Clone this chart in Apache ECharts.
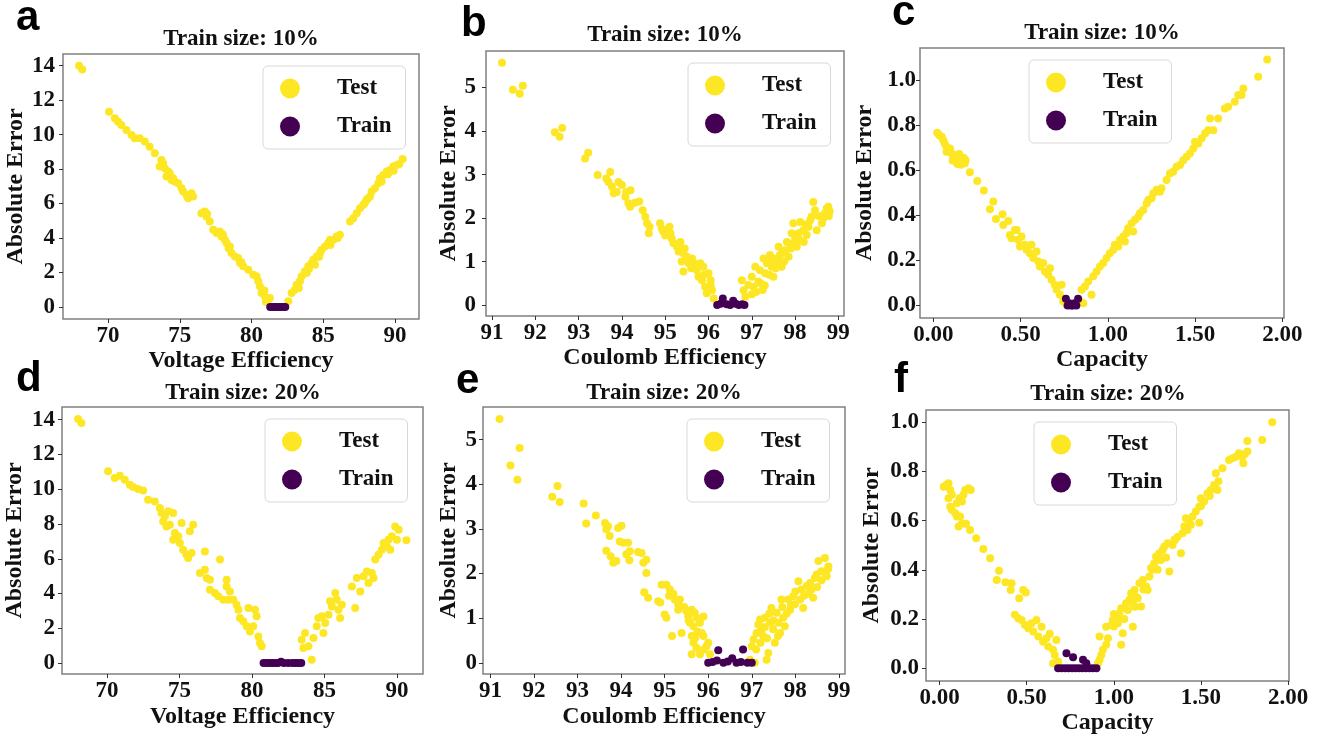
<!DOCTYPE html>
<html lang="en">
<head>
<meta charset="UTF-8">
<title>Absolute Error</title>
<style>
    * { margin: 0; padding: 0; }
    html, body { width: 100%; height: 100%; background: #fff; }
    #main { width: 1327px; height: 738px; }
</style>
<script src="https://cdn.jsdelivr.net/npm/echarts@6/dist/echarts.min.js"></script>
</head>
<body>
<div id="main"></div>
<script>
// tick values
var veTicks = [70, 75, 80, 85, 90];
var ceTicks = [91, 92, 93, 94, 95, 96, 97, 98, 99];
var capTicks = [0, 0.5, 1, 1.5, 2];
var veErrTicks = [0, 2, 4, 6, 8, 10, 12, 14];
var ceErrTicks = [0, 1, 2, 3, 4, 5];
var capErrTicks = [0, 0.2, 0.4, 0.6, 0.8, 1.0];

// a: voltage efficiency, train size 10%
var aTest = [[67.98,14.0],[68.2,13.78],[70.07,11.33],[70.47,10.95],[70.7,10.75],[70.93,10.56],[71.28,10.27],[71.63,9.98],[71.86,9.79],[72.2,9.79],[72.56,9.6],[72.9,9.3],[73.26,8.92],[73.72,8.53],[73.6,8.15],[73.95,8.05],[73.84,8.34],[74.19,7.86],[74.3,7.76],[74.07,7.57],[74.53,7.47],[74.65,7.28],[74.42,7.37],[74.88,7.18],[75.12,6.89],[75.23,6.7],[75.47,6.5],[75.7,6.41],[75.58,6.31],[75.93,6.41],[75.81,6.6],[76.51,5.44],[76.74,5.54],[76.86,5.25],[76.9,5.4],[77.09,4.96],[77.33,4.48],[77.56,4.29],[77.79,4.38],[77.9,4.09],[78.0,4.2],[78.14,3.9],[78.26,3.71],[78.4,3.4],[78.49,3.51],[78.6,3.13],[78.84,2.93],[79.07,2.84],[79.19,2.55],[79.3,2.6],[79.42,2.36],[79.77,2.16],[80.12,1.87],[80.35,1.78],[80.47,1.49],[80.58,1.2],[80.7,0.81],[80.9,0.95],[80.93,0.62],[81.0,0.3],[81.16,0.42],[81.28,0.52],
    [82.56,0.33],[82.79,0.81],[83.02,1.0],[83.14,1.29],[83.3,1.1],[83.37,1.49],[83.49,1.78],[83.72,2.07],[83.84,1.97],[83.95,2.36],[84.0,2.2],[84.19,2.55],[84.3,2.74],[84.42,2.45],[84.53,2.93],[84.7,2.9],[84.77,3.13],[84.88,3.32],[85.12,3.51],[85.35,3.71],[85.47,3.9],[85.5,3.6],[85.7,3.9],[85.93,4.09],[86.0,4.0],[86.16,4.19],[86.86,4.96],[87.09,5.15],[87.33,5.44],[87.56,5.73],[87.79,5.93],[87.9,6.03],[88.02,6.22],[88.1,6.3],[88.26,6.41],[88.37,6.7],[88.6,6.89],[88.84,7.18],[88.95,7.47],[89.07,7.28],[89.19,7.66],[89.42,7.86],[89.5,7.7],[89.65,7.95],[89.88,8.15],[89.9,7.9],[90.12,8.24],[90.3,8.3],[90.53,8.59]];
var aTrain = [[81.3,0],[81.45,0],[81.6,0],[81.75,0],[81.9,0],[82.05,0],[82.2,0],[82.35,0]];

// b: coulomb efficiency, train size 10%
var bTest = [[91.23,5.57],[91.48,4.95],[91.64,4.86],[91.71,5.04],[92.45,3.97],[92.56,3.87],[92.62,4.07],[93.15,3.37],[93.22,3.5],[93.44,2.99],[93.64,2.91],[93.73,3.06],[93.69,2.83],[93.77,2.72],[93.81,2.57],[93.92,2.83],[94.0,2.76],[93.88,2.6],[94.08,2.49],[94.1,2.6],[94.15,2.34],[94.19,2.26],[94.2,2.64],[94.3,2.35],[94.4,2.38],[94.48,2.18],[94.54,2.03],[94.58,1.88],[94.64,1.8],[94.62,1.65],[94.88,1.88],[94.92,1.76],[94.95,1.7],[95.0,1.6],[95.04,1.72],[95.1,1.8],[95.12,1.65],[95.15,1.53],[95.19,1.42],[95.27,1.34],[95.3,1.4],[95.31,1.23],[95.35,1.45],[95.42,1.19],[95.45,1.3],[95.5,1.11],[95.38,1.0],[95.42,0.77],[95.54,0.96],[95.6,0.85],[95.62,1.07],[95.65,0.88],[95.7,0.95],[95.73,0.8],[95.77,0.65],[95.81,0.96],[95.88,0.88],[95.85,0.57],[95.9,0.7],[95.92,0.42],[96.0,0.73],[96.05,0.57],[96.05,0.45],[96.08,0.34],[95.96,0.27],[96.12,0.15],
    [96.77,0.57],[96.81,0.34],[96.85,0.19],[96.92,0.46],[97.0,0.65],[97.0,0.25],[97.04,0.42],[97.08,0.88],[97.1,0.3],[97.15,0.54],[97.19,0.8],[97.2,0.5],[97.25,0.35],[97.27,1.07],[97.3,0.45],[97.31,0.73],[97.35,0.96],[97.4,0.7],[97.42,1.15],[97.45,1.05],[97.46,0.88],[97.5,0.65],[97.54,1.07],[97.55,0.85],[97.6,1.0],[97.62,1.34],[97.65,1.15],[97.69,0.88],[97.7,1.2],[97.75,1.0],[97.77,1.26],[97.81,1.45],[97.85,1.11],[97.9,1.3],[97.92,1.65],[97.96,1.42],[97.96,1.88],[98.0,1.55],[98.04,1.34],[98.08,1.65],[98.1,1.5],[98.12,1.91],[98.19,1.72],[98.2,1.45],[98.25,1.85],[98.27,1.61],[98.31,1.8],[98.35,1.95],[98.38,2.03],[98.42,2.37],[98.46,2.18],[98.5,1.72],[98.55,2.05],[98.62,1.88],[98.65,1.99],[98.69,2.11],[98.73,2.22],[98.77,2.26],[98.78,2.05],[98.8,2.15]];
var bTrain = [[96.2,0],[96.28,0.03],[96.33,0.15],[96.42,0.02],[96.5,0],[96.57,0.1],[96.63,0.03],[96.7,0],[96.78,0.02],[96.83,0]];

// c: capacity, train size 10%
var cTest = [[0.023,0.767],[0.034,0.756],[0.048,0.749],[0.057,0.734],[0.065,0.719],[0.076,0.705],[0.086,0.69],[0.096,0.697],[0.105,0.675],[0.115,0.66],[0.12,0.65],[0.124,0.668],[0.13,0.64],[0.134,0.653],[0.14,0.66],[0.143,0.645],[0.145,0.635],[0.153,0.66],[0.155,0.645],[0.16,0.625],[0.162,0.638],[0.165,0.655],[0.17,0.64],[0.172,0.648],[0.175,0.655],[0.181,0.631],[0.185,0.645],[0.138,0.628],[0.076,0.682],[0.111,0.643],[0.149,0.672],[0.21,0.591],[0.252,0.552],[0.29,0.51],[0.344,0.461],[0.325,0.427],[0.359,0.384],[0.397,0.405],[0.401,0.357],[0.43,0.375],[0.439,0.313],[0.468,0.335],[0.449,0.298],[0.478,0.335],[0.487,0.291],[0.506,0.306],[0.497,0.261],[0.525,0.269],[0.535,0.247],[0.563,0.269],[0.554,0.232],[0.573,0.21],[0.592,0.239],[0.602,0.195],[0.611,0.173],[0.63,0.188],[0.64,0.151],[0.659,0.136],[0.669,0.165],[0.678,0.114],[0.697,0.092],[0.707,0.069],[0.736,0.092],[0.726,0.047],[0.745,0.018],[0.764,0.003],
    [0.84,0.018],[0.86,0.01],[0.85,0.069],[0.869,0.084],[0.888,0.106],[0.907,0.047],[0.917,0.129],[0.936,0.151],[0.955,0.173],[0.974,0.188],[0.993,0.21],[1.012,0.232],[1.032,0.247],[1.041,0.269],[1.06,0.261],[1.07,0.291],[1.089,0.306],[1.098,0.284],[1.108,0.321],[1.117,0.343],[1.137,0.365],[1.146,0.328],[1.156,0.38],[1.175,0.394],[1.184,0.409],[1.203,0.424],[1.223,0.453],[1.232,0.468],[1.251,0.476],[1.261,0.498],[1.28,0.513],[1.299,0.505],[1.308,0.52],[1.337,0.557],[1.356,0.586],[1.375,0.594],[1.394,0.616],[1.414,0.623],[1.433,0.645],[1.452,0.66],[1.471,0.675],[1.49,0.697],[1.5,0.727],[1.519,0.719],[1.538,0.742],[1.558,0.764],[1.576,0.778],[1.586,0.83],[1.605,0.778],[1.633,0.83],[1.671,0.874],[1.69,0.882],[1.728,0.904],[1.748,0.934],[1.767,0.934],[1.777,0.963],[1.862,1.015],[1.914,1.092]];
var cTrain = [[0.76,0.03],[0.77,0],[0.78,0.01],[0.79,0],[0.8,0],[0.81,0.01],[0.82,0],[0.83,0.03]];

// d: voltage efficiency, train size 20%
var dTest = [[68.0,14.04],[68.23,13.81],[70.07,11.03],[70.53,10.64],[70.88,10.78],[71.22,10.55],[71.57,10.26],[71.8,10.13],[72.14,10.01],[72.49,9.93],[72.83,9.4],[73.29,9.3],[73.64,8.92],[73.76,8.63],[73.99,8.44],[73.87,8.15],[74.22,8.73],[74.33,7.96],[74.56,8.63],[74.1,7.86],[74.68,7.48],[74.91,7.29],[74.56,7.1],[75.14,8.06],[75.02,6.9],[75.25,6.52],[75.48,6.23],[75.6,6.04],[75.83,6.33],[75.71,7.58],[75.94,7.96],[76.75,6.42],[76.41,5.18],[76.75,5.37],[76.87,4.89],[77.1,4.79],[77.1,4.22],[77.44,4.03],[77.67,3.84],[77.79,5.95],[78.02,3.64],[78.25,4.79],[78.25,4.41],[78.48,4.12],[78.36,3.64],[78.71,3.64],[78.94,3.36],[79.06,3.07],[79.17,2.59],[79.4,2.4],[79.63,2.11],[79.75,3.16],[79.86,1.82],[80.09,2.11],[80.21,3.07],[80.32,2.69],[80.44,1.53],[80.55,1.15],[80.67,0.96],
    [83.55,0.86],[83.43,1.34],[83.66,1.73],[83.89,0.96],[84.12,0.19],[84.24,1.44],[84.47,2.11],[84.58,2.59],[84.82,2.69],[84.93,1.73],[85.05,2.3],[85.28,2.78],[85.39,3.55],[85.51,3.26],[85.74,4.03],[85.85,3.64],[85.97,3.07],[86.08,2.59],[86.2,3.36],[86.89,4.41],[87.12,3.16],[87.23,4.89],[87.47,4.12],[87.7,4.99],[87.93,5.27],[88.04,4.6],[88.27,5.18],[88.39,4.89],[88.5,5.95],[88.73,6.23],[88.96,6.52],[89.08,6.9],[89.31,6.71],[89.42,7.1],[89.54,6.52],[89.65,7.29],[89.88,7.86],[90.12,7.67],[90.0,7.1],[90.65,7.06]];
var dTrain = [[80.8,0],[81.0,0],[81.2,0],[81.4,0],[81.6,0],[81.8,0],[82.0,0.08],[82.2,0],[82.5,0],[82.8,0],[83.0,0],[83.2,0],[83.4,0]];

// e: coulomb efficiency, train size 20%
var eTest = [[91.21,5.46],[91.46,4.42],[91.62,4.1],[91.67,4.81],[92.42,3.72],[92.54,3.96],[92.59,3.6],[93.14,3.57],[93.2,3.12],[93.42,3.3],[93.63,3.13],[93.66,2.99],[93.7,3.06],[93.74,2.84],[93.66,2.51],[93.76,2.39],[93.82,2.24],[93.89,2.28],[93.93,3.02],[94.01,3.07],[93.97,2.72],[94.05,2.69],[94.16,2.69],[94.2,2.5],[94.12,2.43],[94.19,2.3],[94.39,2.48],[94.47,2.46],[94.51,2.24],[94.58,2.01],[94.58,2.31],[94.53,1.58],[94.62,1.46],[94.85,1.38],[94.9,1.35],[94.93,1.75],[95.04,1.75],[95.1,1.5],[95.12,1.64],[95.16,1.53],[95.2,1.55],[95.0,1.08],[95.04,1.01],[95.23,1.42],[95.31,1.31],[95.35,1.42],[95.45,1.25],[95.17,0.6],[95.39,0.67],[95.31,1.19],[95.5,1.16],[95.54,1.04],[95.55,0.95],[95.62,1.19],[95.69,1.12],[95.58,0.9],[95.66,0.82],[95.73,1.01],[95.75,0.7],[95.7,0.55],[95.81,0.9],[95.85,0.67],[95.89,1.04],[95.62,0.6],[95.66,0.45],[95.73,0.34],[95.62,0.19],[95.89,0.6],[95.9,0.3],[95.81,0.19],[95.96,0.37],[96.0,0.45],[96.04,0.19],
    [96.96,0.07],[97.07,0.0],[97.0,0.37],[97.04,0.52],[97.1,0.3],[97.11,0.67],[97.15,0.86],[97.19,0.97],[97.2,0.45],[97.23,0.75],[97.26,0.6],[97.3,1.01],[97.3,0.8],[97.34,0.07],[97.35,0.55],[97.38,0.22],[97.4,1.1],[97.42,0.9],[97.45,1.23],[97.49,0.75],[97.5,0.95],[97.53,0.45],[97.57,1.12],[97.6,0.6],[97.61,0.9],[97.65,0.67],[97.68,1.42],[97.7,1.25],[97.72,1.01],[97.76,0.82],[97.8,1.1],[97.84,1.42],[97.88,1.19],[97.9,1.3],[97.95,1.49],[97.99,1.31],[98.0,1.6],[98.07,1.83],[98.11,1.42],[98.14,1.64],[98.18,1.23],[98.2,1.5],[98.26,1.72],[98.3,1.55],[98.34,1.79],[98.37,1.64],[98.41,1.46],[98.45,1.9],[98.49,1.98],[98.5,1.7],[98.53,2.28],[98.6,2.05],[98.6,1.85],[98.68,2.35],[98.7,2.0],[98.72,1.94],[98.75,2.1],[98.76,2.16]];
var eTrain = [[96.0,0],[96.1,0.02],[96.2,0.05],[96.23,0.28],[96.35,0],[96.45,0.03],[96.55,0.1],[96.65,0],[96.75,0.02],[96.8,0.3],[96.9,0],[97.0,0]];

// f: capacity, train size 20%
var fTest = [[0.023,0.738],[0.038,0.745],[0.051,0.752],[0.061,0.725],[0.07,0.705],[0.051,0.691],[0.061,0.657],[0.07,0.644],[0.09,0.63],[0.099,0.671],[0.114,0.691],[0.128,0.678],[0.137,0.705],[0.147,0.725],[0.166,0.732],[0.179,0.725],[0.099,0.617],[0.118,0.617],[0.109,0.576],[0.128,0.587],[0.152,0.587],[0.175,0.562],[0.21,0.528],[0.251,0.485],[0.29,0.447],[0.328,0.359],[0.341,0.396],[0.378,0.35],[0.408,0.318],[0.413,0.346],[0.457,0.285],[0.48,0.318],[0.495,0.308],[0.432,0.217],[0.451,0.203],[0.47,0.196],[0.49,0.176],[0.509,0.163],[0.528,0.183],[0.537,0.149],[0.556,0.196],[0.566,0.129],[0.585,0.169],[0.594,0.108],[0.613,0.122],[0.623,0.088],[0.632,0.14],[0.651,0.075],[0.67,0.115],[0.661,0.054],[0.651,0.02],[0.68,0.027],
    [0.909,0.02],[0.918,0.034],[0.928,0.054],[0.937,0.075],[0.956,0.095],[0.918,0.129],[0.966,0.122],[0.956,0.169],[0.985,0.176],[0.994,0.196],[1.0,0.17],[1.0,0.22],[1.013,0.21],[1.023,0.183],[1.03,0.2],[1.032,0.224],[1.042,0.244],[1.042,0.095],[1.051,0.142],[1.06,0.2],[1.07,0.264],[1.08,0.237],[1.09,0.278],[1.099,0.305],[1.109,0.264],[1.109,0.169],[1.118,0.318],[1.12,0.25],[1.128,0.291],[1.137,0.285],[1.147,0.346],[1.156,0.251],[1.166,0.359],[1.17,0.32],[1.185,0.332],[1.194,0.318],[1.204,0.373],[1.213,0.407],[1.22,0.4],[1.232,0.427],[1.242,0.454],[1.251,0.4],[1.261,0.467],[1.27,0.44],[1.28,0.481],[1.29,0.495],[1.3,0.45],[1.309,0.508],[1.318,0.393],[1.337,0.501],[1.347,0.522],[1.35,0.52],[1.366,0.535],[1.385,0.467],[1.394,0.549],[1.404,0.576],[1.413,0.61],[1.423,0.562],[1.43,0.6],[1.442,0.583],[1.451,0.617],[1.47,0.637],[1.49,0.657],[1.49,0.592],[1.499,0.691],[1.5,0.66],[1.518,0.678],[1.537,0.711],[1.55,0.7],[1.556,0.725],[1.575,0.745],[1.585,0.732],[1.594,0.725],[1.6,0.76],[1.585,0.793],[1.623,0.813],[1.661,0.847],[1.68,0.854],[1.7,0.86],[1.718,0.874],[1.737,0.86],[1.743,0.833],[1.75,0.87],[1.766,0.881],[1.766,0.924],[1.851,0.928],[1.909,1.0]];
var fTrain = [[0.68,0],[0.7,0],[0.72,0],[0.728,0.061],[0.74,0],[0.76,0],[0.766,0.045],[0.78,0],[0.8,0],[0.82,0],[0.823,0.034],[0.84,0],[0.842,0.02],[0.86,0],[0.88,0],[0.9,0]];

var YELLOW = '#FDE725', PURPLE = '#440154';
var SERIF = 'Liberation Serif';

var panels = [
    {letter: 'a', title: 'Train size: 10%', test: aTest, train: aTrain, xName: 'Voltage Efficiency',
        grid: {left: 63, top: 54, width: 356, height: 265}, xr: [66.86, 91.67], yr: [-0.70, 14.68],
        xt: veTicks, yt: veErrTicks, xd: 0, yd: 0, letterPos: [16, -3], titlePos: [241, 28],
        legendPos: [263, 66], yGap: 34, xGap: 29, yMargin: 8},
    {letter: 'b', title: 'Train size: 10%', test: bTest, train: bTrain, xName: 'Coulomb Efficiency',
        grid: {left: 486, top: 51, width: 358, height: 265}, xr: [90.86, 99.13], yr: [-0.25, 5.84],
        xt: ceTicks, yt: ceErrTicks, xd: 0, yd: 0, letterPos: [461, 3], titlePos: [665, 24],
        legendPos: [688, 63], yGap: 24, xGap: 28, yMargin: 10},
    {letter: 'c', title: 'Train size: 10%', test: cTest, train: cTrain, xName: 'Capacity',
        grid: {left: 920, top: 48, width: 364, height: 270}, xr: [-0.076, 2.01], yr: [-0.056, 1.143],
        xt: capTicks, yt: capErrTicks, xd: 2, yd: 1, letterPos: [892, -8], titlePos: [1102, 22],
        legendPos: [1029, 60], yGap: 43, xGap: 29, yMargin: 4},
    {letter: 'd', title: 'Train size: 20%', test: dTest, train: dTrain, xName: 'Voltage Efficiency',
        grid: {left: 62, top: 407, width: 361, height: 267}, xr: [66.89, 91.8], yr: [-0.63, 14.73],
        xt: veTicks, yt: veErrTicks, xd: 0, yd: 0, letterPos: [16, 358], titlePos: [243, 382],
        legendPos: [265, 419], yGap: 35, xGap: 31, yMargin: 7},
    {letter: 'e', title: 'Train size: 20%', test: eTest, train: eTrain, xName: 'Coulomb Efficiency',
        grid: {left: 483, top: 407, width: 362, height: 267}, xr: [90.83, 99.14], yr: [-0.25, 5.73],
        xt: ceTicks, yt: ceErrTicks, xd: 0, yd: 0, letterPos: [456, 360], titlePos: [664, 382],
        legendPos: [687, 419], yGap: 22, xGap: 31, yMargin: 6},
    {letter: 'f', title: 'Train size: 20%', test: fTest, train: fTrain, xName: 'Capacity',
        grid: {left: 926, top: 410, width: 363, height: 271}, xr: [-0.078, 2.005], yr: [-0.052, 1.05],
        xt: capTicks, yt: capErrTicks, xd: 2, yd: 1, letterPos: [894, 359], titlePos: [1108, 383],
        legendPos: [1034, 422], yGap: 42, xGap: 29, yMargin: 7}
];

var option = {
    animation: false,
    backgroundColor: '#fff',
    title: [], legend: [], grid: [], xAxis: [], yAxis: [], series: []
};

panels.forEach(function (p, i) {
    option.grid.push({
        left: p.grid.left, top: p.grid.top, width: p.grid.width, height: p.grid.height,
        show: true, borderColor: '#808080', borderWidth: 1.5, backgroundColor: 'transparent',
        outerBoundsMode: 'none'
    });
    var xd = p.xd, yd = p.yd;
    option.xAxis.push({
        gridIndex: i, type: 'value', min: p.xr[0], max: p.xr[1],
        name: p.xName, nameLocation: 'middle', nameGap: p.xGap,
        nameTextStyle: {fontFamily: SERIF, fontWeight: 'bold', fontSize: 24, color: '#111'},
        axisLine: {show: false, onZero: false},
        axisTick: {show: true, customValues: p.xt, length: 4, lineStyle: {color: '#333', width: 1}},
        axisLabel: {customValues: p.xt, margin: 6, fontFamily: SERIF, fontWeight: 'bold', fontSize: 23, color: '#111',
            formatter: function (v) { return v.toFixed(xd); }},
        splitLine: {show: false}
    });
    option.yAxis.push({
        gridIndex: i, type: 'value', min: p.yr[0], max: p.yr[1],
        name: 'Absolute Error', nameLocation: 'middle', nameGap: p.yGap,
        nameTextStyle: {fontFamily: SERIF, fontWeight: 'bold', fontSize: 24, color: '#111'},
        axisLine: {show: false, onZero: false},
        axisTick: {show: true, customValues: p.yt, length: 4, lineStyle: {color: '#333', width: 1}},
        axisLabel: {customValues: p.yt, margin: p.yMargin, fontFamily: SERIF, fontWeight: 'bold', fontSize: 23, color: '#111',
            formatter: function (v) { return v.toFixed(yd); }},
        splitLine: {show: false}
    });
    option.series.push({
        name: 'Test', type: 'scatter', xAxisIndex: i, yAxisIndex: i, data: p.test,
        symbolSize: 8, itemStyle: {color: YELLOW, opacity: 1}
    });
    option.series.push({
        name: 'Train', type: 'scatter', xAxisIndex: i, yAxisIndex: i, data: p.train,
        symbolSize: 8, itemStyle: {color: PURPLE, opacity: 1}
    });
    option.legend.push({
        data: ['Test', 'Train'], orient: 'vertical', left: p.legendPos[0], top: p.legendPos[1],
        icon: 'circle', itemWidth: 20, itemHeight: 20, itemGap: 15,
        padding: [11, 14, 11, 17], borderColor: '#d8d8d8', borderWidth: 1, borderRadius: 5,
        backgroundColor: 'rgba(255,255,255,0.8)',
        textStyle: {fontFamily: SERIF, fontWeight: 'bold', fontSize: 23, color: '#111', padding: [0, 0, 0, 32]}
    });
    option.title.push({
        text: p.title, left: p.titlePos[0], top: p.titlePos[1], textAlign: 'center', padding: 0,
        textStyle: {fontFamily: SERIF, fontWeight: 'bold', fontSize: 23, color: '#111'}
    });
    option.title.push({
        text: p.letter, left: p.letterPos[0], top: p.letterPos[1], padding: 0,
        textStyle: {fontFamily: 'Liberation Sans', fontWeight: 'bold', fontSize: 42, color: '#000'}
    });
});

var myChart = echarts.init(document.getElementById('main'));
myChart.setOption(option);
</script>
</body>
</html>
